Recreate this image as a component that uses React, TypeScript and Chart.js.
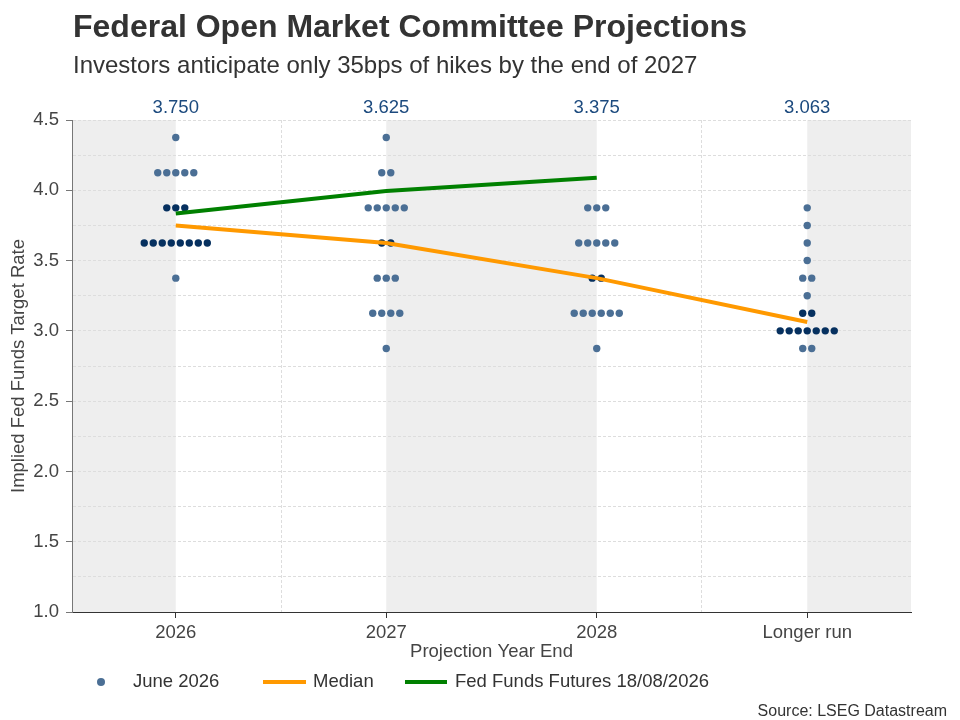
import { useEffect, useRef } from "react";
import { Chart, registerables } from "chart.js";

Chart.register(...registerables);

const categories = ["2026", "2027", "2028", "Longer run"];

// rate levels of the dot plot, top to bottom
const rateLevels = [4.375, 4.125, 3.875, 3.75, 3.625, 3.5, 3.375, 3.25, 3.125, 3.0, 2.875];

// how many participants sit at each level, one array per category
const counts2026 = [1, 5, 3, 0, 8, 0, 1, 0, 0, 0, 0];
const counts2027 = [1, 2, 5, 0, 2, 0, 3, 0, 4, 0, 1];
const counts2028 = [0, 0, 3, 0, 5, 0, 2, 0, 6, 0, 1];
const countsLonger = [0, 0, 1, 1, 1, 1, 2, 1, 2, 7, 2];

// levels around the median, drawn darker
const dark2026 = [3.875, 3.625];
const dark2027 = [3.625];
const dark2028 = [3.375];
const darkLonger = [3.125, 3.0];

const medians = [3.75, 3.625, 3.375, 3.063];
const futures = [3.835, 3.995, 4.09];

const FONT = "'Liberation Sans', Arial, sans-serif";
const LIGHT = "#4b6f95";
const DARK = "#06305f";
const ORANGE = "#ff9900";
const GREEN = "#008000";
const X_MIN = -0.493;
const X_MAX = 3.493;
const DOT_STEP = 0.0428; // ~9px between neighbouring dots

function buildDots() {
  const allCounts = [counts2026, counts2027, counts2028, countsLonger];
  const allDark = [dark2026, dark2027, dark2028, darkLonger];
  const pts: { x: number; y: number; dark: boolean }[] = [];
  allCounts.forEach((counts, ci) => {
    counts.forEach((n, li) => {
      for (let j = 0; j < n; j++) {
        pts.push({
          x: ci + (j - (n - 1) / 2) * DOT_STEP,
          y: rateLevels[li],
          dark: allDark[ci].includes(rateLevels[li]),
        });
      }
    });
  });
  return pts;
}

const decor = {
  id: "decor",
  beforeDraw(chart: any) {
    const { ctx, chartArea } = chart;
    const xs = chart.scales.x;
    ctx.save();
    ctx.fillStyle = "#ffffff";
    ctx.fillRect(0, 0, chart.width, chart.height);
    ctx.fillStyle = "#eeeeee";
    const bands = [
      [X_MIN, 0],
      [1, 2],
      [3, X_MAX],
    ];
    bands.forEach(([a, b]) => {
      const x1 = xs.getPixelForValue(a);
      const x2 = xs.getPixelForValue(b);
      ctx.fillRect(x1, chartArea.top, x2 - x1, chartArea.bottom - chartArea.top);
    });
    ctx.restore();
  },
  afterDraw(chart: any) {
    const { ctx } = chart;
    const xs = chart.scales.x;
    ctx.save();

    // title + subtitle
    ctx.textAlign = "left";
    ctx.textBaseline = "alphabetic";
    ctx.fillStyle = "#333333";
    ctx.font = `bold 32px ${FONT}`;
    ctx.fillText("Federal Open Market Committee Projections", 73, 37);
    ctx.font = `24px ${FONT}`;
    ctx.fillText("Investors anticipate only 35bps of hikes by the end of 2027", 73, 73);

    // median values above the plot
    ctx.textAlign = "center";
    ctx.fillStyle = "#1c4a7e";
    ctx.font = `18.5px ${FONT}`;
    medians.forEach((m, i) => {
      ctx.fillText(m.toFixed(3), xs.getPixelForValue(i), 113);
    });

    // legend
    const ly = 682;
    ctx.fillStyle = LIGHT;
    ctx.beginPath();
    ctx.arc(101, ly, 4, 0, Math.PI * 2);
    ctx.fill();
    ctx.lineWidth = 4;
    ctx.strokeStyle = ORANGE;
    ctx.beginPath();
    ctx.moveTo(263, ly);
    ctx.lineTo(306, ly);
    ctx.stroke();
    ctx.strokeStyle = GREEN;
    ctx.beginPath();
    ctx.moveTo(405, ly);
    ctx.lineTo(447, ly);
    ctx.stroke();
    ctx.fillStyle = "#333333";
    ctx.textAlign = "left";
    ctx.textBaseline = "middle";
    ctx.font = `18.5px ${FONT}`;
    ctx.fillText("June 2026", 133, ly);
    ctx.fillText("Median", 313, ly);
    ctx.fillText("Fed Funds Futures 18/08/2026", 455, ly);

    // source
    ctx.textAlign = "right";
    ctx.textBaseline = "alphabetic";
    ctx.font = `16px ${FONT}`;
    ctx.fillText("Source: LSEG Datastream", 947, 716);

    ctx.restore();
  },
};

const DotPlot = () => {
  const canvasRef = useRef<HTMLCanvasElement>(null);

  useEffect(() => {
    document.body.style.margin = "0";
    const canvas = canvasRef.current;
    if (!canvas) return;

    const chart = new Chart(canvas, {
      type: "scatter",
      data: {
        datasets: [
          {
            type: "line",
            label: "Median",
            data: medians.map((y, i) => ({ x: i, y })),
            borderColor: ORANGE,
            borderWidth: 4,
            pointRadius: 0,
            order: 0,
          },
          {
            type: "line",
            label: "Fed Funds Futures 18/08/2026",
            data: futures.map((y, i) => ({ x: i, y })),
            borderColor: GREEN,
            borderWidth: 4,
            pointRadius: 0,
            order: 0,
          },
          {
            label: "June 2026",
            data: buildDots(),
            pointRadius: 3.7,
            pointBorderWidth: 0,
            pointBackgroundColor: (c: any) => (c.raw && c.raw.dark ? DARK : LIGHT),
            order: 1,
          } as any,
        ],
      },
      options: {
        responsive: false,
        animation: false,
        layout: { padding: { top: 120, left: 8, right: 49, bottom: 57 } },
        plugins: {
          legend: { display: false },
          tooltip: { enabled: false },
        },
        scales: {
          x: {
            type: "linear",
            min: X_MIN,
            max: X_MAX,
            afterBuildTicks: (scale: any) => {
              scale.ticks = [0, 0.5, 1, 2, 2.5, 3].map((v) => ({ value: v }));
            },
            afterFit: (scale: any) => {
              scale.height = 51;
            },
            ticks: {
              autoSkip: false,
              maxRotation: 0,
              padding: 4,
              color: "#444444",
              font: { family: FONT, size: 18.5 },
              callback: (v: any) => (Number.isInteger(v) ? categories[v] : ""),
            },
            grid: {
              color: (c: any) => (Number.isInteger(c.tick?.value) ? "transparent" : "#dddddd"),
              tickColor: (c: any) => (Number.isInteger(c.tick?.value) ? "#333333" : "transparent"),
              tickLength: 6,
              tickBorderDash: [],
            },
            border: { color: "#333333", width: 1, dash: [3, 2] },
            title: {
              display: true,
              text: "Projection Year End",
              color: "#444444",
              padding: 0,
              font: { family: FONT, size: 18.5 },
            },
          },
          y: {
            min: 1,
            max: 4.5,
            afterFit: (scale: any) => {
              scale.width = 64;
            },
            ticks: {
              stepSize: 0.25,
              autoSkip: false,
              padding: 7,
              color: "#444444",
              font: { family: FONT, size: 18.5 },
              callback: (v: any) => (Math.abs(v * 2 - Math.round(v * 2)) < 1e-6 ? Number(v).toFixed(1) : ""),
            },
            grid: {
              color: "#dddddd",
              tickColor: (c: any) => {
                const v = c.tick?.value ?? 0;
                return Math.abs(v * 2 - Math.round(v * 2)) < 1e-6 ? "#777777" : "transparent";
              },
              tickLength: 6,
              tickBorderDash: [],
            },
            border: { color: "#777777", width: 1, dash: [3, 2] },
            title: {
              display: true,
              text: "Implied Fed Funds Target Rate",
              color: "#444444",
              padding: 0,
              font: { family: FONT, size: 18.5 },
            },
          },
        },
      },
      plugins: [decor],
    });

    return () => chart.destroy();
  }, []);

  return <canvas ref={canvasRef} width={960} height={720} />;
};

export default function App() {
  return <DotPlot />;
}
